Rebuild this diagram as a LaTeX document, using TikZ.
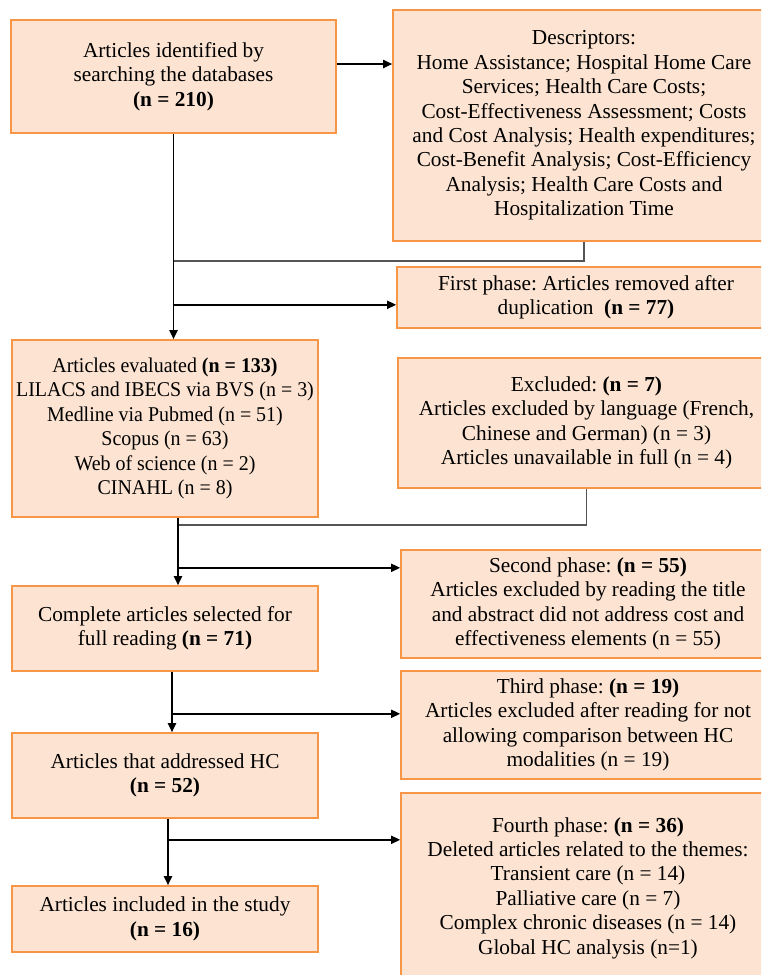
\documentclass[tikz,border=0pt]{standalone}
\usepackage{fontspec}
\setmainfont{Liberation Serif}
\newfontfamily\narrowserif[FakeStretch=0.95]{Liberation Serif}
\usetikzlibrary{arrows.meta}
\frenchspacing

\definecolor{boxfill}{HTML}{FDE4D2}
\definecolor{boxline}{HTML}{F79646}
\definecolor{feedgray}{HTML}{555555}

\tikzset{
  box/.style={draw=boxline, fill=boxfill, line width=1.6pt, align=center,
    inner sep=0pt, font=\fontsize{21.3}{24.4}\selectfont},
  arr/.style={line width=1.8pt, -{Triangle[length=9pt,width=8pt]}},
  feed/.style={draw=feedgray, line width=1.4pt}
}

\begin{document}
\begin{tikzpicture}[x=1pt, y=-1pt]

    \useasboundingbox (0,0) rectangle (761,975);
    \clip (0,0) rectangle (761,975);

    % Left column
    \node [box, minimum width=325pt, minimum height=113pt] (found) at (173.5,76.5)
      {Articles identified by\\searching the databases\\\textbf{(n = 210)}};
    \node [box, minimum width=306pt, minimum height=177pt,
      font=\narrowserif\fontsize{21}{24.4}\selectfont] (eval) at (165,428.5)
      {Articles evaluated \textbf{(n = 133)}\\LILACS and IBECS via BVS (n = 3)\\Medline via Pubmed (n = 51)\\Scopus (n = 63)\\Web of science (n = 2)\\CINAHL (n = 8)};
    \node [box, minimum width=306pt, minimum height=85pt] (complete) at (165,628.5)
      {Complete articles selected for\\full reading \textbf{(n = 71)}};
    \node [box, minimum width=306pt, minimum height=85pt] (hc) at (165,775.5)
      {Articles that addressed HC\\\textbf{(n = 52)}};
    \node [box, minimum width=306pt, minimum height=66pt] (incl) at (165,919)
      {Articles included in the study\\\textbf{(n = 16)}};

    % Right column
    \node [box, minimum width=382pt, minimum height=231pt] (desc) at (584,125.5)
      {Descriptors:\\Home Assistance; Hospital Home Care\\Services; Health Care Costs;\\Cost-Effectiveness Assessment; Costs\\and Cost Analysis; Health expenditures;\\Cost-Benefit Analysis; Cost-Efficiency\\Analysis; Health Care Costs and\\Hospitalization Time};
    \node [box, minimum width=378pt, minimum height=61pt] (first) at (586,297.5)
      {First phase: Articles removed after\\duplication~ \textbf{(n = 77)}};
    \node [box, minimum width=377pt, minimum height=130pt] (excl) at (586.5,423)
      {Excluded: \textbf{(n = 7)}\\Articles excluded by language (French,\\Chinese and German) (n = 3)\\Articles unavailable in full (n = 4)};
    \node [box, minimum width=374pt, minimum height=108pt] (second) at (588,604)
      {Second phase: \textbf{(n = 55)}\\Articles excluded by reading the title\\and abstract did not address cost and\\effectiveness elements (n = 55)};
    \node [box, minimum width=374pt, minimum height=108pt] (third) at (588,725)
      {Third phase: \textbf{(n = 19)}\\Articles excluded after reading for not\\allowing comparison between HC\\modalities (n = 19)};
    \node [box, minimum width=374pt, minimum height=190pt] (fourth) at (588,888)
      {Fourth phase: \textbf{(n = 36)}\\Deleted articles related to the themes:\\Transient care (n = 14)\\Palliative care (n = 7)\\Complex chronic diseases (n = 14)\\Global HC analysis (n=1)};

    % Junction points on the trunks
    \path (found.south) ++(0,127) coordinate (j1);
    \path (found.south) ++(0,171) coordinate (j2);
    \path ([xshift=13pt]eval.south) ++(0,7) coordinate (j3);
    \path ([xshift=13pt]eval.south) ++(0,50) coordinate (j4);
    \path ([xshift=7pt]complete.south) ++(0,42) coordinate (j5);
    \path ([xshift=3pt]hc.south) ++(0,21) coordinate (j6);

    % Search -> descriptors
    \draw[arr] ([yshift=12.5pt]found.east) -- ([yshift=12.5pt]found.east -| desc.west);

    % Trunk 1
    \draw[feed] (desc.south) |- (j1);
    \draw[arr] (found.south) -- (found.south |- eval.north);
    \draw[arr] (j2) -- (j2 -| first.west);

    % Trunk 2
    \draw[feed] (excl.south) |- (j3);
    \draw[arr] ([xshift=13pt]eval.south) -- ([xshift=13pt]eval.south |- complete.north);
    \draw[arr] (j4) -- (j4 -| second.west);

    % Trunk 3
    \draw[arr] ([xshift=7pt]complete.south) -- ([xshift=7pt]complete.south |- hc.north);
    \draw[arr] (j5) -- (j5 -| third.west);

    % Trunk 4
    \draw[arr] ([xshift=3pt]hc.south) -- ([xshift=3pt]hc.south |- incl.north);
    \draw[arr] (j6) -- (j6 -| fourth.west);

\end{tikzpicture}
\end{document}
